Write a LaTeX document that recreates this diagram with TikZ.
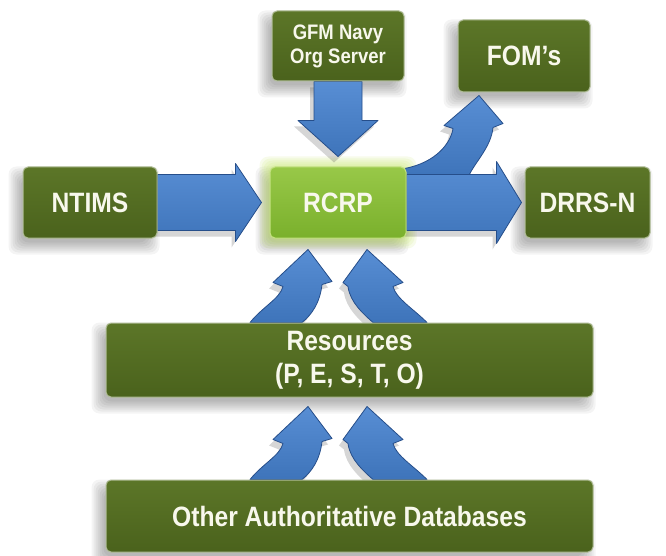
\documentclass[tikz,border=0pt]{standalone}
\usepackage{fontspec}
\newfontfamily\boxfont{Liberation Sans}[FakeStretch=0.88]
\usetikzlibrary{calc}
\pgfdeclarelayer{bg}
\pgfdeclarelayer{shadow}
\pgfdeclarelayer{arrows}
\pgfsetlayers{bg,shadow,arrows,main}
\definecolor{boxgreentop}{RGB}{92,118,40}
\definecolor{boxgreenbot}{RGB}{74,98,28}
\definecolor{boxedge}{RGB}{175,188,150}
\definecolor{lightgreentop}{RGB}{152,200,72}
\definecolor{lightgreenbot}{RGB}{122,176,44}
\definecolor{lightedge}{RGB}{196,226,130}
\definecolor{glowgreen}{RGB}{200,232,110}
\definecolor{arrowtop}{RGB}{88,142,212}
\definecolor{arrowbot}{RGB}{62,116,186}
\definecolor{arrowedge}{RGB}{38,78,138}
\definecolor{textwhite}{RGB}{248,248,236}
\tikzset{
  darkbox/.style={rectangle, rounded corners=5pt, draw=boxedge, line width=1pt,
    top color=boxgreentop, bottom color=boxgreenbot, text=textwhite,
    font=\boxfont\bfseries\fontsize{28}{33}\selectfont, align=center, inner sep=0pt},
  smalltext/.style={font=\boxfont\bfseries\fontsize{21}{24}\selectfont},
  lightbox/.style={darkbox, draw=lightedge, top color=lightgreentop, bottom color=lightgreenbot},
  bluearrow/.style={top color=arrowtop, bottom color=arrowbot, draw=arrowedge,
    line width=0.8pt, line join=round}
}
\newcommand\blockarrow[1]{%
  \begin{pgfonlayer}{shadow}\fill[black,opacity=.16,transform canvas={shift={(-4pt,-6pt)}}] #1;\end{pgfonlayer}%
  \begin{pgfonlayer}{arrows}\path[bluearrow] #1;\end{pgfonlayer}}
\newcommand\curvepair[1]{%
  \blockarrow{($(#1)+(-88,0)$) .. controls ($(#1)+(-75,-16)$) and ($(#1)+(-58,-24)$) .. ($(#1)+(-55,-36)$)
    -- ($(#1)+(-65,-40)$) -- ($(#1)+(-30,-73)$) -- ($(#1)+(-6,-41)$) -- ($(#1)+(-16,-38)$)
    .. controls ($(#1)+(-18,-20)$) and ($(#1)+(-26,-8)$) .. ($(#1)+(-36,0)$) -- cycle}%
  \blockarrow{($(#1)+(35,0)$) .. controls ($(#1)+(26,-8)$) and ($(#1)+(12,-20)$) .. ($(#1)+(10,-36)$)
    -- ($(#1)+(5,-40)$) -- ($(#1)+(29,-73)$) -- ($(#1)+(65,-40)$) -- ($(#1)+(55,-36)$)
    .. controls ($(#1)+(58,-24)$) and ($(#1)+(75,-14)$) .. ($(#1)+(89,0)$) -- cycle}}
\begin{document}
\begin{tikzpicture}[x=1pt,y=-1pt]
\begin{pgfonlayer}{bg}
\fill[white] (0,0) rectangle (666,556);
\end{pgfonlayer}
\useasboundingbox (0,0) rectangle (666,556);

\node[darkbox, smalltext, minimum width=132pt, minimum height=70pt] (gfm) at (338,46) {GFM Navy\\Org Server};
\node[darkbox, minimum width=132pt, minimum height=72pt] (fom) at (524,56) {FOM’s};
\node[darkbox, minimum width=134pt, minimum height=71pt] (ntims) at (90,202.5) {NTIMS};
\node[lightbox, minimum width=136pt, minimum height=71pt] (rcrp) at (338,202.5) {RCRP};
\node[darkbox, minimum width=125pt, minimum height=71pt] (drrs) at (587.5,202.5) {DRRS-N};
\node[darkbox, minimum width=487pt, minimum height=74pt] (res) at (349.5,360) {Resources\\(P, E, S, T, O)};
\node[darkbox, minimum width=487pt, minimum height=72pt] (oad) at (349.5,516) {Other Authoritative Databases};

\coordinate (p1) at (res.north -| rcrp.south);
\coordinate (p2) at (oad.north -| rcrp.south);

% soft shadows of the boxes
\begin{pgfonlayer}{shadow}
\foreach \n in {gfm,fom,ntims,rcrp,drrs,res,oad}{
  \foreach \e in {-4,-2,...,8}{
    \fill[black,opacity=.045,rounded corners=8pt] ($(\n.north west)+(-6-\e,8-\e)$) rectangle ($(\n.south east)+(-6+\e,8+\e)$);
  }
}
\foreach \e in {2,4,...,10}{
  \fill[glowgreen,opacity=.14,rounded corners=9pt] ($(rcrp.north west)+(-\e,-\e)$) rectangle ($(rcrp.south east)+(\e,\e)$);
}
\end{pgfonlayer}

% GFM -> RCRP
\blockarrow{($(gfm.south)+(-24,0)$) -- ($(gfm.south)+(-24,39)$) -- ($(gfm.south)+(-40,39)$)
  -- ($(rcrp.north)+(0,-10)$) -- ($(gfm.south)+(40,39)$) -- ($(gfm.south)+(24,39)$) -- ($(gfm.south)+(24,0)$) -- cycle}

% NTIMS -> RCRP
\blockarrow{($(ntims.east)+(0,-28)$) -- ($(rcrp.west)+(-34,-28)$) -- ($(rcrp.west)+(-34,-39)$)
  -- ($(rcrp.west)+(-8,0)$) -- ($(rcrp.west)+(-34,39)$) -- ($(rcrp.west)+(-34,28)$) -- ($(ntims.east)+(0,28)$) -- cycle}

% RCRP -> FOM's (curved)
\blockarrow{($(rcrp.north east)+(-2,2)$) .. controls ($(rcrp.north east)+(30,-4)$) and ($(fom.south)+(-73,50)$) .. ($(fom.south)+(-71,36)$)
  -- ($(fom.south)+(-80,33)$) -- ($(fom.south)+(-45,3)$) -- ($(fom.south)+(-21,31)$) -- ($(fom.south)+(-31,35)$)
  .. controls ($(fom.south)+(-33,55)$) and ($(rcrp.east)+(68,-40)$) .. ($(rcrp.east)+(62,-26)$) -- ($(rcrp.east)+(-2,-26)$) -- cycle}

% RCRP -> DRRS-N
\blockarrow{($(rcrp.east)+(0,-28)$) -- ($(drrs.west)+(-28,-28)$) -- ($(drrs.west)+(-28,-41)$)
  -- ($(drrs.west)+(-3,0)$) -- ($(drrs.west)+(-28,41)$) -- ($(drrs.west)+(-28,28)$) -- ($(rcrp.east)+(0,28)$) -- cycle}

% Resources -> RCRP, Other -> Resources
\curvepair{p1}
\curvepair{p2}
\end{tikzpicture}
\end{document}
